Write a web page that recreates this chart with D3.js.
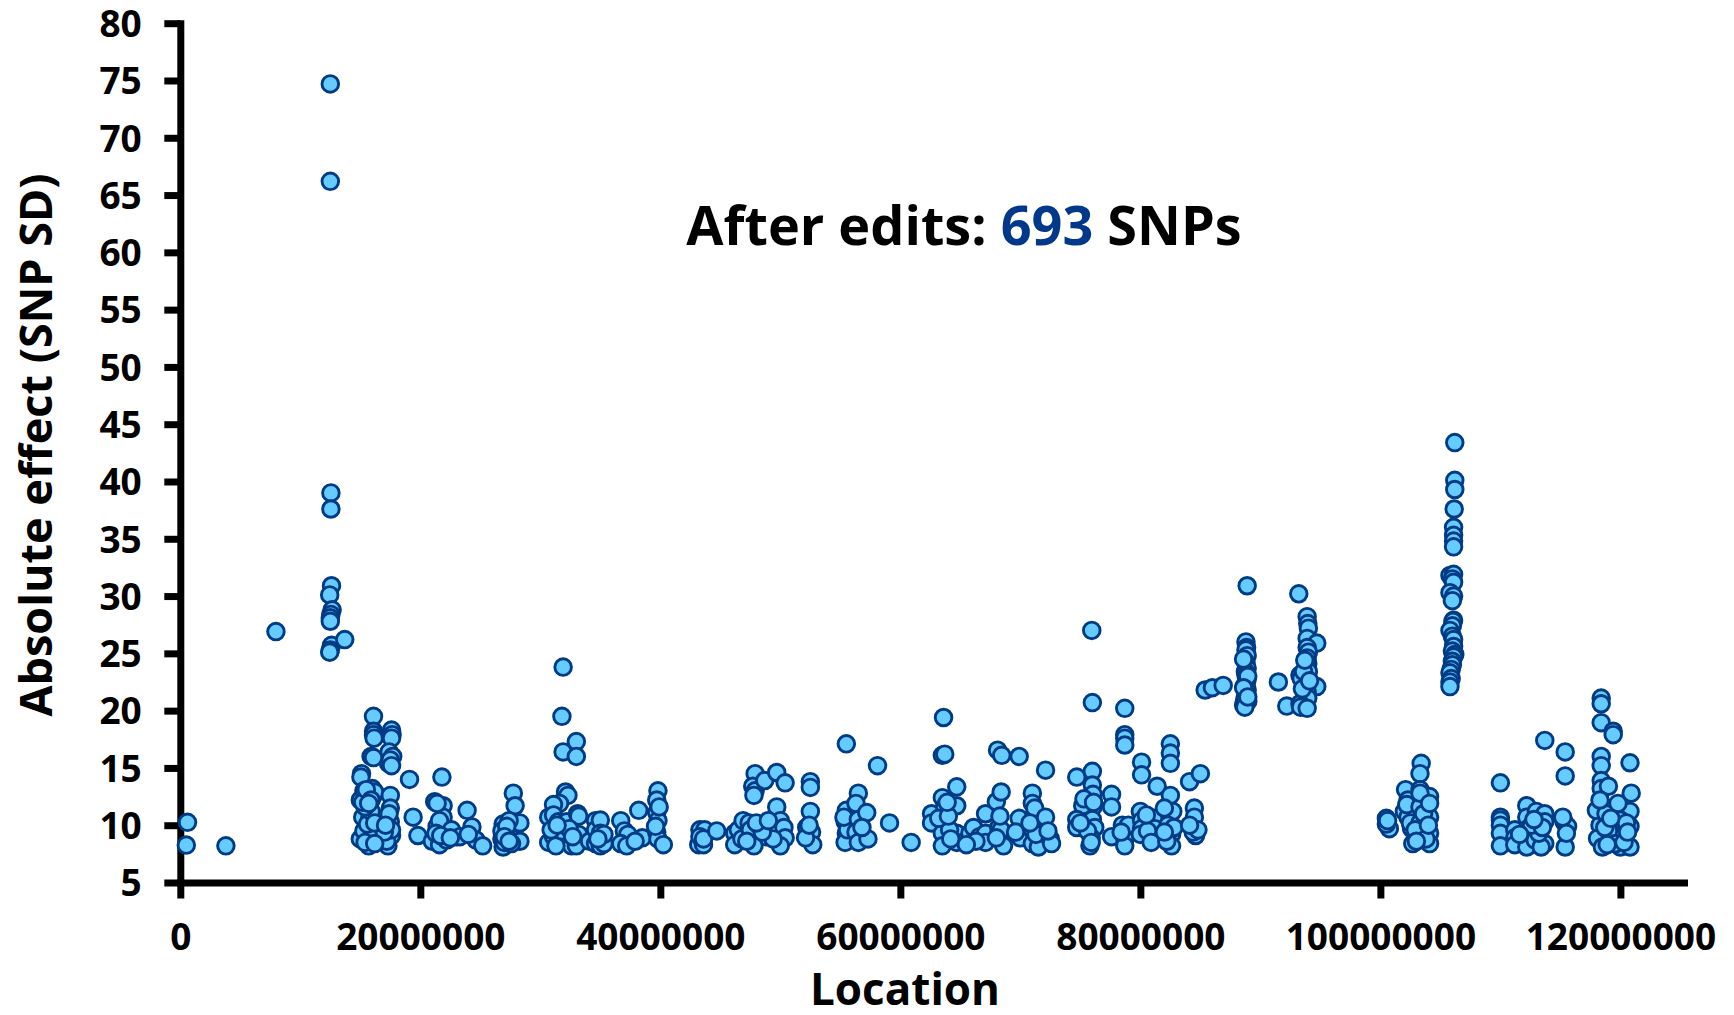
<!DOCTYPE html>
<html>
<head>
<meta charset="utf-8">
<script src="https://cdn.jsdelivr.net/npm/d3@7"></script>
<style>
  html, body { margin: 0; padding: 0; background: #ffffff; }
  svg { display: block; }
  text { font-family: "Open Sans", "Lato", sans-serif; font-weight: 700; fill: #000; }
</style>
</head>
<body>
<svg id="chart" width="1734" height="1015"></svg>
<script>
// ---- Data (location in Mb, absolute effect in SNP SD) ----
const segChr0to14 = [
  [0.6,10.25],[0.5,8.27],[3.8,8.2],[7.97,26.9],
  [12.5,74.7],[12.5,66.2],[12.55,39.0],[12.55,37.6],[12.6,30.9],[12.45,30.1],[12.65,28.8],[12.55,28.4],
  [12.5,28.1],[12.5,27.8],[12.6,25.7],[12.5,25.3],[12.45,25.1],[13.7,26.2]
];
const seg15to29 = [
  [16.1,19.5],[16.1,18.2],[16.1,17.9],[16.15,17.6],[17.6,18.3],[17.65,17.9],[17.6,17.6],[15.9,16.0],[17.4,16.4],
  [17.7,16.0],[17.35,15.4],[17.5,15.7],[15.1,14.5],[15.05,14.2],[15.0,12.2],[15.3,13.0],[16.0,13.2],[16.1,12.6],
  [15.6,12.9],[15.8,12.4],[16.2,12.9],[17.5,12.6],[17.5,11.5],[15.2,10.7],[15.8,10.7],[16.0,10.6],[16.0,9.9],
  [16.1,9.0],[15.0,8.8],[15.7,8.2],[15.3,9.5],[16.0,9.4],[15.6,10.1],[15.9,11.2],[15.4,11.6],[17.3,9.9],[17.6,9.1],
  [17.3,8.2],[17.5,10.3],[17.2,8.6],[17.6,9.6],[17.0,9.4],[15.2,12.0],[15.5,13.1],[15.9,12.2],[16.2,10.2],
  [15.4,8.5],[16.2,8.4],[17.4,11.0],[17.1,10.0],[15.7,11.9],[16.1,15.9],[17.6,15.2],
  [19.1,14.0],[19.4,10.7],[19.8,9.1],
  [21.8,14.2],[21.2,12.05],[21.9,11.7],[21.9,10.7],[21.4,9.9],[22.0,9.7],[21.0,8.6],[21.6,8.3],[22.3,9.0],
  [23.0,9.0],[21.6,10.4],[22.2,8.7],[22.6,9.6],[23.3,9.0],[21.3,9.3],[21.4,11.9],[21.7,9.1],[22.5,8.9],
  [23.9,11.3],[24.3,9.85],[24.65,8.7],[25.2,8.2],[24.0,9.2],
  [26.9,10.1],[27.3,9.7],[26.8,8.8],[26.9,8.1],[27.5,9.0],[27.75,12.8],[27.9,11.7],[28.3,10.2],[28.3,8.6],
  [27.1,9.3],[27.4,10.4],[27.0,8.5],[27.6,8.4],[26.8,9.5],[27.2,9.9],[27.0,9.0],[27.4,8.6]
];
const seg30to41 = [
  [31.9,23.8],[31.8,19.5],[31.9,16.4],[33.0,17.3],[33.0,16.0],[32.1,12.9],[32.3,12.6],[31.6,11.9],[31.1,11.8],
  [30.7,10.7],[31.1,10.9],[31.5,10.3],[32.0,10.2],[32.2,10.3],[33.1,11.0],[33.2,10.8],
  [30.7,8.5],[31.1,9.0],[31.6,9.1],[32.0,8.6],[32.3,8.5],[32.6,8.2],[33.2,9.2],[33.0,8.2],[34.1,8.6],
  [34.6,10.4],[34.6,9.6],[34.6,8.4],[31.3,8.2],[31.8,9.5],[32.4,9.7],[30.9,9.6],[31.4,10.0],[32.7,9.0],
  [35.0,10.45],[35.0,9.3],[35.0,8.2],[35.3,8.4],[35.3,9.2],[34.8,8.8],
  [36.7,10.4],[37.0,9.5],[37.3,9.2],[36.7,8.4],[37.2,8.2],[38.2,11.3],[38.5,8.9],[37.9,8.6],
  [39.8,13.0],[39.7,12.2],[39.7,11.1],[39.8,10.4],[39.7,9.4],[39.8,8.8],[40.25,8.3],[39.6,9.9],[39.9,11.6]
];
const seg42to53 = [
  [43.3,9.6],[43.2,8.3],[43.7,9.6],[43.6,8.3],[43.3,9.0],[43.6,8.8],[44.7,9.5],
  [46.2,9.3],[46.2,8.3],[46.5,9.6],[46.9,10.4],[47.4,10.2],[46.8,8.8],
  [47.9,14.5],[47.7,13.4],[47.9,13.0],[47.8,12.6],[48.7,13.9],[49.7,14.6],[50.4,13.7],
  [49.7,11.6],[50.0,10.4],[50.3,9.8],[50.4,8.9],[50.0,8.2],[48.8,9.0],[47.8,8.2],[49.4,8.8],[47.5,9.6],
  [48.2,10.0],[48.5,9.4],[47.2,8.6],[48.0,10.2],[49.0,10.4],
  [52.5,13.8],[52.5,13.3],[52.5,11.2],[52.6,9.4],[52.7,8.3],[52.2,9.8],[52.1,8.9],[52.4,10.0]
];
const seg55to76 = [
  [55.5,17.1],[55.5,11.3],[55.4,10.3],[55.5,9.3],[55.4,8.5],[55.6,9.6],[55.3,10.7],
  [56.5,12.8],[56.3,11.9],[56.5,10.5],[57.2,11.1],[56.3,9.4],[56.5,8.5],[57.3,8.8],[56.8,9.8],
  [58.1,15.2],[59.1,10.2],[60.9,8.5],
  [63.6,19.4],[63.5,16.1],[63.7,16.2],[62.6,11.0],[62.6,10.2],[63.5,12.4],[63.7,11.6],[64.7,13.35],[64.7,11.7],
  [63.5,9.3],[63.5,8.2],[64.7,9.3],[64.7,8.5],[64.1,9.6],[64.2,8.8],[63.2,10.6],[64.0,10.8],[63.9,12.0],
  [65.8,9.3],[66.1,9.8],[66.6,9.0],[67.1,11.0],[67.1,9.3],[67.1,8.5],[66.3,8.6],[65.5,8.3],
  [68.1,16.55],[68.45,16.1],[68.0,12.05],[68.4,12.9],[68.2,9.8],[68.4,9.6],[68.6,8.2],[68.0,8.9],[68.3,10.8],
  [69.9,16.0],[69.9,10.6],[70.0,8.9],[69.6,9.4],
  [71.0,12.8],[71.0,11.9],[71.1,10.7],[71.0,9.6],[71.0,8.4],[71.5,8.1],[71.2,11.5],[71.3,9.2],[70.8,10.2],
  [72.1,14.8],[72.1,10.7],[72.5,8.8],[72.6,8.4],[72.3,9.5],
  [74.7,14.2],[75.95,27.0],[76.0,20.7],[76.0,14.7],[76.0,13.5],[76.05,12.7],[76.05,11.6],[75.2,11.7],
  [74.7,10.5],[74.7,9.8],[76.0,10.5],[76.2,9.8],[75.9,8.9],[75.8,8.2],[75.6,9.5],[75.3,12.3],[76.1,12.0],
  [75.9,8.5],[75.0,10.2]
];
const seg77to87 = [
  [77.6,12.7],[77.6,11.6],[77.6,9.0],[78.7,20.2],[78.7,17.9],[78.7,17.6],[78.7,17.0],[78.5,10.0],[78.7,8.8],
  [78.7,8.2],[79.0,10.0],[78.4,9.4],
  [80.1,15.5],[80.1,14.4],[80.0,11.2],[80.1,10.4],[80.1,9.7],[80.0,9.2],[81.1,10.6],[81.1,8.9],[81.2,9.7],
  [81.4,13.4],[80.6,9.5],[80.5,10.9],[80.9,8.5],
  [82.5,17.1],[82.5,16.3],[82.5,15.4],[82.5,12.6],[82.7,11.2],[82.6,9.2],[82.6,8.2],[82.0,11.5],[82.3,10.0],
  [82.8,9.8],[82.2,8.6],[82.0,9.4],
  [84.1,13.8],[85.0,14.5],[84.5,11.5],[84.5,10.7],[84.6,9.1],[84.4,9.4],[84.8,9.6],[84.1,10.0],
  [85.4,21.8],[86.0,22.0],[86.9,22.2]
];
const seg88to95 = [
  [88.9,30.9],[88.8,26.0],[88.85,25.5],[88.8,25.3],[88.9,24.8],[88.8,24.2],[88.9,23.7],[88.75,23.4],[88.8,23.1],
  [88.9,22.8],[88.85,22.5],[88.7,22.2],[88.9,21.8],[88.8,21.5],[88.7,21.0],[88.95,20.8],[88.6,20.5],[88.7,20.3],
  [88.6,24.5],[88.95,23.0],[88.6,22.0],[88.95,21.2],
  [91.5,22.5],[92.2,20.4],[93.2,30.2],[93.9,28.2],[93.95,27.6],[94.0,27.2],[93.9,26.3],[94.7,25.9],[93.9,25.5],
  [94.0,25.1],[93.9,24.6],[93.95,24.1],[93.9,23.8],[94.0,23.4],[93.3,23.1],[93.4,22.8],[94.7,22.1],[93.9,21.6],
  [93.95,21.1],[93.3,20.6],[93.35,20.3],[93.9,20.2],[93.5,21.9],[93.6,23.4],[94.1,22.6],[93.7,24.4]
];
const seg100to107 = [
  [100.5,10.6],[100.75,9.7],[100.5,10.1],[100.6,10.4],
  [103.4,15.4],[103.3,14.5],[102.1,13.1],[102.3,12.2],[102.0,11.2],[102.3,10.7],[102.6,9.7],[102.7,8.4],
  [102.5,10.2],[102.2,11.8],[103.3,13.1],[104.1,12.5],[103.3,11.6],[104.1,10.7],[103.3,10.2],[104.1,9.3],
  [104.1,8.4],[103.3,12.8],[103.3,9.3],[102.9,9.6],[103.6,11.0],[103.8,8.8],[104.1,11.9],[104.0,10.0],[103.0,8.6],
  [106.2,43.4],[106.2,40.1],[106.2,39.3],[106.15,37.6],[106.1,36.0],[106.1,35.3],[106.1,34.8],[106.1,34.3],
  [105.8,31.8],[106.1,31.9],[106.0,31.5],[106.1,31.2],[105.8,30.3],[106.1,30.0],[106.0,29.6],[106.1,27.9],
  [106.05,27.8],[106.0,27.4],[105.8,27.0],[106.0,26.5],[106.1,26.2],[106.1,25.6],[106.0,25.2],[106.2,24.9],
  [106.1,24.7],[106.0,24.3],[106.0,24.0],[105.9,23.6],[105.8,23.3],[105.9,22.8],[105.8,22.5],[105.8,22.1]
];
const seg110to121 = [
  [110.0,13.7],[110.0,10.7],[110.0,10.45],[110.0,10.0],[110.0,9.3],[110.0,8.2],[111.2,9.6],[111.2,8.9],[111.2,8.3],
  [112.2,11.7],[112.2,10.7],[112.2,9.6],[112.2,8.1],[112.9,8.7],[113.0,11.2],[113.7,11.0],[113.7,10.3],[113.7,8.4],
  [113.4,8.1],[113.2,9.3],[112.6,10.0],[113.5,9.8],[111.6,9.2],[112.8,10.5],
  [113.7,17.4],[115.4,16.4],[115.4,14.3],[115.3,10.3],[115.6,9.9],[115.4,8.1],[115.2,10.7],[115.5,9.3],
  [118.4,21.1],[118.4,20.6],[118.4,18.95],[119.4,18.2],[119.4,17.9],[118.4,16.0],[118.4,15.2],[118.4,13.9],
  [118.4,13.2],[119.0,13.4],[120.8,15.45],[120.9,12.8],
  [118.2,11.3],[118.3,10.0],[118.1,8.85],[118.5,8.1],[119.4,11.0],[119.7,9.9],[119.4,8.7],[120.0,8.1],[120.0,11.3],
  [120.8,11.2],[120.8,9.9],[120.8,8.1],[120.2,9.0],[120.0,10.45],[118.0,11.3],[118.8,11.0],[119.8,11.9],[119.0,9.5],
  [119.6,8.4],[118.7,9.8],[118.9,8.3],[120.5,10.2],[120.3,8.5],[118.3,12.2],[119.2,10.6],[120.6,9.4]
];

const xTicks = [0, 20000000, 40000000, 60000000, 80000000, 100000000, 120000000];
const yTicks = [5,10,15,20,25,30,35,40,45,50,55,60,65,70,75,80];
const xMax = 125300000;
const titleParts = ["After edits: ", "693", " SNPs"];
const xTitle = "Location";
const yTitle = "Absolute effect (SNP SD)";

// ---- Chart ----
const points = [].concat(segChr0to14, seg15to29, seg30to41, seg42to53, seg55to76,
                         seg77to87, seg88to95, seg100to107, seg110to121)
                 .map(d => ({ loc: d[0] * 1e6, eff: d[1] }));

const svg = d3.select("#chart");
const x = d3.scaleLinear().domain([0, xMax]).range([180.3, 1684]);
const y = d3.scaleLinear().domain([5, 80]).range([882.5, 23.2]);

const axisStroke = 7;

const gx = svg.append("g").attr("transform", `translate(0,${y(5)})`)
  .call(d3.axisBottom(x).tickValues(xTicks).tickSize(16).tickSizeOuter(0).tickFormat(d3.format("d")));
gx.selectAll("text").attr("y", 67.5).attr("dy", 0).style("font-size", "37px");

const gy = svg.append("g").attr("transform", `translate(${x(0)},0)`)
  .call(d3.axisLeft(y).tickValues(yTicks).tickSize(16).tickSizeOuter(0).tickFormat(d3.format("d")));
gy.selectAll("text").attr("x", -38.6).attr("dy", "0.36em").style("font-size", "37px");

[gx, gy].forEach(g => {
  g.select(".domain").attr("stroke", "#000").attr("stroke-width", axisStroke).attr("stroke-linecap", "square");
  g.selectAll(".tick line").attr("stroke", "#000").attr("stroke-width", axisStroke);
  g.selectAll("text").attr("fill", "#000").style("font-family", "'Open Sans', sans-serif").style("font-weight", 700);
});

svg.append("g").selectAll("circle").data(points).join("circle")
  .attr("cx", d => x(d.loc))
  .attr("cy", d => y(d.eff))
  .attr("r", 8.3)
  .attr("fill", "#66CCFF")
  .attr("stroke", "#003B85")
  .attr("stroke-width", 2.9);

const t = svg.append("text").attr("x", 964).attr("y", 245).attr("text-anchor", "middle")
  .style("font-size", "54px");
t.append("tspan").text(titleParts[0]);
t.append("tspan").attr("fill", "#01388A").style("fill", "#01388A").text(titleParts[1]);
t.append("tspan").text(titleParts[2]);

svg.append("text").attr("x", 905).attr("y", 1005).attr("text-anchor", "middle")
  .style("font-size", "44px").text(xTitle);

svg.append("text").attr("transform", "translate(52,445) rotate(-90)").attr("text-anchor", "middle")
  .style("font-size", "45px").text(yTitle);
</script>
</body>
</html>
